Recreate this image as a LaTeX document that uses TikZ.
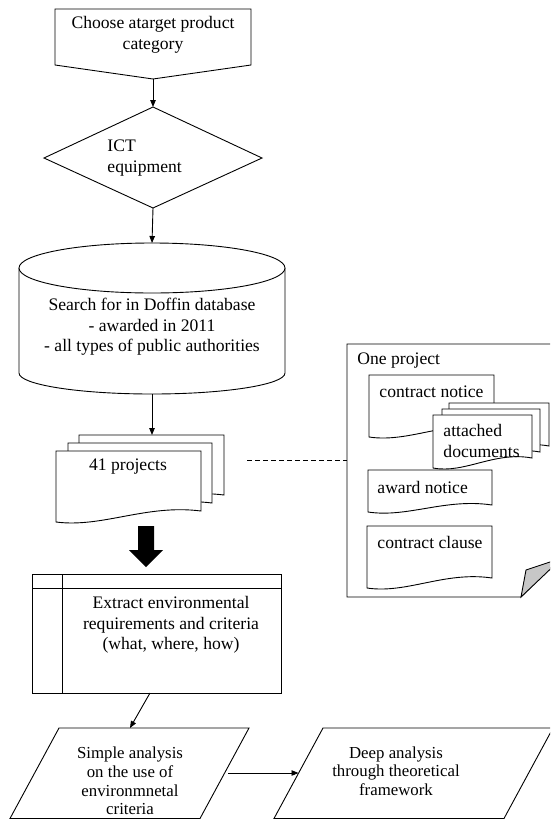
\documentclass[tikz,border=0pt]{standalone}
\usepackage{fontspec}
\setmainfont{Liberation Serif}
\usetikzlibrary{arrows.meta}
\newcommand\docshape[6]{%
  % #1 L, #2 R, #3 T, #4 Lb, #5 Rb, #6 name
  \draw[shp] (#1,#3) -- (#2,#3) -- (#2,#5)
    .. controls ({(#1)+0.62*((#2)-(#1))},{(#5)-7}) and ({(#1)+0.32*((#2)-(#1))},{(#4)+6}) .. (#1,#4) -- cycle;
  \coordinate (#6) at ({((#1)+(#2))/2},#3);
}
\begin{document}
\begin{tikzpicture}[x=1pt,y=-1pt,line width=0.9pt,
  shp/.style={draw,fill=white,line join=miter},
  txt/.style={font=\fontsize{17.6}{20.5}\selectfont,inner sep=0pt,align=center},
  txts/.style={font=\fontsize{16.8}{18.6}\selectfont,inner sep=0pt,align=center},
  arr/.style={-{Triangle[length=7pt,width=5.5pt]}},
  dashline/.style={dash pattern=on 5pt off 3pt}]
\useasboundingbox (0,0) rectangle (550,820);
\clip (0,0) rectangle (550,820);

% start box
\draw[shp] (55,9) -- (251,9) -- (251,65) -- (153,79) -- (55,65) -- cycle;
\coordinate (start-s) at (153,79);
\node[txt] (start) at (153,35) {Choose atarget product\\category};

% diamond
\draw[shp] (153,107) -- (262,158) -- (153,208) -- (44,158) -- cycle;
\coordinate (ict-n) at (153,107);
\coordinate (ict-s) at (153,208);
\node[txt,align=left,anchor=west] (ict) at (107,158) {ICT\\equipment};

% cylinder
\draw[shp] (19,268) -- (19,373) arc[start angle=180,end angle=360,x radius=133,y radius=-21]
  -- (285,268);
\draw[shp] (152,268) ellipse[x radius=133,y radius=25];
\coordinate (db-n) at (152,243);
\coordinate (db-s) at (152,394);
\node[txt] (db) at (152,327) {Search for in Doffin database\\- awarded in 2011\\- all types of public authorities};

% document stack
\docshape{79}{224}{435}{506}{495}{back}
\docshape{68}{212}{443}{514}{503}{mid}
\docshape{56}{201}{451}{522}{511}{front}
\coordinate (stack-n) at (152,435);
\coordinate (stack-e) at (247,460);
\node[txt] (projects) at (128,467) {41 projects};

% block arrow
\fill (138,526) -- (154,526) -- (154,550) -- (163,550) -- (146,567) -- (129,550) -- (138,550) -- cycle;

% extract box
\draw[shp] (32,574) rectangle (281,693);
\draw (32,588) -- (281,588);
\draw (62,574) -- (62,693);
\coordinate (ext-s) at (150,693);
\node[txt] (extract) at (171,625) {Extract environmental\\requirements and criteria\\(what, where, how)};

% parallelograms
\draw[shp] (59,728) -- (249,728) -- (200,818.5) -- (10,818.5) -- cycle;
\coordinate (simple-n) at (130,728);
\coordinate (simple-e) at (228,773);
\node[txts] (simple) at (130,781) {Simple analysis\\on the use of\\environmnetal\\criteria};

\draw[shp] (323,728) -- (553,728) -- (504,818.5) -- (274,818.5) -- cycle;
\coordinate (deep-w) at (298.5,773);
\node[txts] (deep) at (396,771) {Deep analysis\\through theoretical\\framework};

% panel
\draw[shp] (347,344) -- (562,344) -- (562,556) -- (521,597) -- (347,597) -- cycle;
\draw[fill=black!22,line join=miter] (521,597) -- (526,570) -- (562,558) -- cycle;
\coordinate (panel-w) at (347,460);
\node[txt,anchor=west] (onep) at (357,361) {One project};

\docshape{369}{494}{375}{437}{427}{cn}
\node[txt,anchor=west] (cnt) at (379,392) {contract notice};
\docshape{449}{549}{403}{456}{446}{ad3}
\docshape{442}{540}{409}{462}{452}{ad2}
\docshape{433}{532}{415}{468}{458}{ad1}
\node[txt,anchor=west,align=left] (adt) at (443,441) {attached\\documents};
\docshape{368}{492}{470}{512}{505}{an}
\node[txt,anchor=west] (ant) at (377,487) {award notice};
\docshape{367}{492}{526}{588}{578}{cc}
\node[txt,anchor=west] (cct) at (377,542) {contract clause};

% connectors
\draw[arr] (start-s) -- (ict-n);
\draw[arr] (ict-s) -- (db-n);
\draw[arr] (db-s) -- (stack-n);
\draw[arr] (ext-s) -- (simple-n);
\draw[arr] (simple-e) -- (deep-w);
\draw[dashline] (stack-e) -- (panel-w);
\end{tikzpicture}
\end{document}
